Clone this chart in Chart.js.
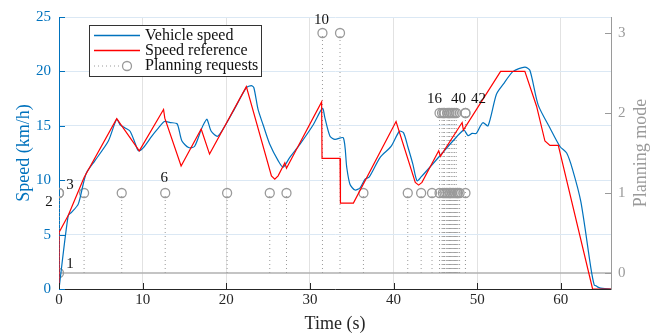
<!DOCTYPE html>
<html>
<head>
<meta charset="utf-8">
<script src="https://cdn.jsdelivr.net/npm/chart.js@4.4.1/dist/chart.umd.min.js"></script>
<style>
  body { margin: 0; background: #fff; }
  #chart { display: block; }
</style>
</head>
<body>
<canvas id="chart" width="669" height="335"></canvas>
<script>
// values
const speedTime = [0, 1.1, 1.5, 2.3, 2.9, 3.3, 4.3, 5.9, 6.9, 7.3, 7.9, 8.5, 9.1, 9.5, 10.1, 11.1, 11.9, 12.6, 13.3, 14.1, 14.3, 14.7, 15.5, 16.2, 17.0, 17.4, 17.7, 18.2, 19.0, 20.8, 22.4, 23.0, 23.3, 23.8, 24.4, 25.2, 26.2, 26.8, 27.6, 28.8, 30.4, 31.5, 31.8, 32.4, 33.0, 34.0, 34.4, 34.8, 35.4, 36.0, 36.6, 37.1, 38.4, 39.7, 40.7, 41.2, 41.7, 42.3, 42.8, 43.3, 45.5, 47.1, 48.4, 48.9, 49.4, 49.9, 50.4, 50.7, 51.3, 52.3, 53.1, 54.3, 55.7, 56.3, 57.3, 58.7, 59.9, 60.7, 61.4, 62.4, 63.6, 64.0, 64.2, 64.5, 65.0, 66.0];
const speedValues = [0, 6.75, 7.05, 7.8, 9.65, 10.7, 11.8, 13.6, 15.6, 15.1, 14.8, 14.5, 13.4, 12.7, 13.0, 14.05, 14.8, 15.4, 15.3, 15.2, 14.8, 13.6, 13.0, 13.1, 14.65, 15.3, 15.6, 14.5, 14.05, 16.3, 18.5, 18.7, 18.5, 16.5, 15.1, 13.3, 11.8, 11.2, 12.1, 13.3, 15.1, 16.6, 15.7, 14.05, 13.75, 13.9, 11.2, 9.6, 9.1, 9.3, 10.1, 10.3, 12.1, 13.1, 14.5, 14.35, 13.1, 11.5, 9.95, 10.3, 12.2, 13.6, 14.6, 14.1, 14.3, 14.3, 15.0, 15.3, 15.0, 17.9, 18.8, 20.0, 20.4, 20.1, 16.9, 14.8, 13.1, 12.5, 11.0, 8.0, 1.9, 0.35, 0.3, 0.15, 0.05, 0];

const refTime = [0, 0, 1.1, 3.0, 6.9, 9.6, 12.5, 12.65, 14.6, 17.0, 18.0, 22.4, 25.4, 25.8, 26.2, 27.0, 27.2, 31.4, 31.45, 33.6, 33.65, 35.2, 40.3, 42.6, 43.0, 43.4, 45.4, 45.6, 48.2, 48.35, 52.8, 55.7, 57.1, 58.1, 58.7, 59.7, 63.8, 66.0];
const refValues = [0, 5.2, 6.75, 10.25, 15.65, 12.7, 16.5, 15.7, 11.3, 14.7, 12.4, 18.6, 10.4, 10.1, 10.4, 11.6, 11.1, 17.2, 12.0, 12.0, 7.9, 7.9, 15.4, 9.8, 9.55, 9.8, 12.7, 12.2, 15.3, 14.6, 20.0, 20.0, 16.8, 13.6, 13.2, 13.2, 0, 0];

const reqTimes = [0, 0, 0, 3.0, 7.5, 12.7, 20.1, 25.2, 27.2, 31.5, 33.6, 36.4, 41.7, 43.3, 44.6,
  45.5, 45.5, 45.8, 45.9, 46.0, 46.1, 46.1, 46.3, 46.4, 46.5, 46.6, 46.7, 46.7, 46.8, 46.9, 47.0,
  47.1, 47.2, 47.3, 47.4, 47.5, 47.6, 47.7, 47.9, 48.6, 48.6, 48.6];
const reqModes = [0, 1, 1, 1, 1, 1, 1, 1, 1, 3, 3, 1, 1, 1, 1,
  2, 1, 2, 1, 2, 1, 2, 1, 2, 1, 2, 1, 2, 1, 2, 1,
  2, 1, 2, 1, 2, 1, 1, 1, 2, 1, 2];
const labeledRequests = [1, 2, 3, 6, 10, 16, 40, 42];

const xTicks = [0, 10, 20, 30, 40, 50, 60];
const speedTicks = [0, 5, 10, 15, 20, 25];
const modeTicks = [0, 1, 2, 3];

const BLUE = '#0072BD';
const RED = '#FF0000';
const GREY = '#9a9a9a';
const FONT = '"Liberation Serif", "Times New Roman", serif';

const toPoints = (xs, ys) => xs.map((x, i) => ({ x: x, y: ys[i] }));

// stems: from the baseline up to each request, broken by a null
const stemPoints = [];
reqTimes.forEach((t, i) => {
  stemPoints.push({ x: t, y: 0 }, { x: t, y: reqModes[i] }, { x: t, y: null });
});

// label nudges, in pixels, so the numbers sit beside their circles
const labelOffsets = {
  1: [11, -9], 2: [-10, 9], 3: [11, -8], 6: [-1, -15],
  10: [-1, -13], 16: [-5, -14], 40: [-7, -14], 42: [13, -14]
};

const overlay = {
  id: 'overlay',
  afterDatasetsDraw(chart) {
    const ctx = chart.ctx;
    const sx = chart.scales.x, sy = chart.scales.y, sy2 = chart.scales.y2;
    const area = chart.chartArea;
    ctx.save();

    // inward tick marks
    ctx.lineWidth = 1;
    ctx.strokeStyle = BLUE;
    speedTicks.forEach(v => {
      const p = Math.round(sy.getPixelForValue(v)) + 0.5;
      ctx.beginPath(); ctx.moveTo(area.left, p); ctx.lineTo(area.left + 6, p); ctx.stroke();
    });
    ctx.strokeStyle = '#262626';
    xTicks.forEach(v => {
      const p = Math.round(sx.getPixelForValue(v)) + 0.5;
      ctx.beginPath(); ctx.moveTo(p, area.bottom); ctx.lineTo(p, area.bottom - 6); ctx.stroke();
    });
    ctx.strokeStyle = GREY;
    modeTicks.forEach(v => {
      const p = Math.round(sy2.getPixelForValue(v)) + 0.5;
      ctx.beginPath(); ctx.moveTo(area.right, p); ctx.lineTo(area.right - 6, p); ctx.stroke();
    });

    // request numbers
    ctx.font = '15px ' + FONT;
    ctx.fillStyle = '#111';
    ctx.textAlign = 'center';
    ctx.textBaseline = 'middle';
    labeledRequests.forEach(n => {
      const off = labelOffsets[n];
      ctx.fillText(String(n), sx.getPixelForValue(reqTimes[n - 1]) + off[0], sy2.getPixelForValue(reqModes[n - 1]) + off[1]);
    });

    // legend box
    const lx = 89.5, ly = 25.5, lw = 172, lh = 51;
    ctx.fillStyle = '#fff';
    ctx.fillRect(lx, ly, lw, lh);
    ctx.strokeStyle = '#333';
    ctx.strokeRect(lx, ly, lw, lh);
    const rows = [35.5, 50.5, 66];
    const sets = chart.data.datasets.filter(d => d.legendRank !== undefined)
      .sort((a, b) => a.legendRank - b.legendRank);
    ctx.font = '16px ' + FONT;
    ctx.textAlign = 'left';
    sets.forEach((d, i) => {
      const ry = rows[i];
      ctx.strokeStyle = d.borderColor || d.pointBorderColor;
      ctx.lineWidth = d.legendDash ? 1 : 1.5;
      ctx.setLineDash(d.legendDash ? [1, 3] : []);
      ctx.beginPath(); ctx.moveTo(94, ry); ctx.lineTo(d.legendDash ? 121 : 140, ry); ctx.stroke();
      ctx.setLineDash([]);
      if (d.legendDash) {
        ctx.lineWidth = 1.3;
        ctx.beginPath(); ctx.arc(127, ry, 4.5, 0, Math.PI * 2); ctx.stroke();
      }
      ctx.fillStyle = '#111';
      ctx.fillText(d.label, 145, ry);
    });

    // right axis title, reading upwards like the left one
    ctx.translate(641, (area.top + area.bottom) / 2);
    ctx.rotate(-Math.PI / 2);
    ctx.textAlign = 'center';
    ctx.fillStyle = GREY;
    ctx.font = '18px ' + FONT;
    ctx.fillText('Planning mode', 0, 0);
    ctx.restore();
  }
};

new Chart(document.getElementById('chart'), {
  type: 'line',
  data: {
    datasets: [
      {
        label: 'Speed reference',
        data: toPoints(refTime, refValues),
        borderColor: RED,
        borderWidth: 1.2,
        tension: 0,
        yAxisID: 'y',
        order: 0,
        legendRank: 1
      },
      {
        label: 'Vehicle speed',
        data: toPoints(speedTime, speedValues),
        borderColor: BLUE,
        borderWidth: 1.2,
        tension: 0.25,
        yAxisID: 'y',
        order: 1,
        legendRank: 0
      },
      {
        label: 'Planning requests',
        data: toPoints(reqTimes, reqModes),
        showLine: false,
        pointRadius: 4.5,
        pointBorderWidth: 1.3,
        pointBorderColor: GREY,
        pointBackgroundColor: 'rgba(0,0,0,0)',
        yAxisID: 'y2',
        order: 2,
        legendRank: 2,
        legendDash: true
      },
      {
        label: 'stems',
        data: stemPoints,
        borderColor: GREY,
        borderWidth: 1,
        borderDash: [1, 3],
        spanGaps: false,
        yAxisID: 'y2',
        order: 3
      },
      {
        label: 'baseline',
        data: [{ x: 0, y: 0 }, { x: 66, y: 0 }],
        borderColor: '#b0b0b0',
        borderWidth: 1.5,
        yAxisID: 'y2',
        order: 4
      }
    ]
  },
  options: {
    responsive: false,
    animation: false,
    layout: { padding: { top: 15, left: 0, right: 0, bottom: 0 } },
    plugins: { legend: { display: false }, tooltip: { enabled: false } },
    elements: { point: { radius: 0 } },
    scales: {
      x: {
        type: 'linear',
        min: 0,
        max: 66,
        afterBuildTicks: s => { s.ticks = xTicks.map(v => ({ value: v })); },
        afterFit: s => { s.height = 46; },
        ticks: { color: '#262626', font: { family: FONT, size: 15 }, padding: 2, maxRotation: 0 },
        grid: { color: '#e2e2e2', drawTicks: false },
        border: { color: '#262626', width: 1 },
        title: { display: true, text: 'Time (s)', color: '#262626', font: { family: FONT, size: 18 }, padding: { top: 0, bottom: 0 } }
      },
      y: {
        position: 'left',
        min: 0,
        max: 25,
        afterBuildTicks: s => { s.ticks = speedTicks.map(v => ({ value: v })); },
        afterFit: s => { s.width = 59; },
        ticks: { color: BLUE, font: { family: FONT, size: 15 }, padding: 8 },
        grid: { color: '#dbe8f4', drawTicks: false },
        border: { color: BLUE, width: 1 },
        title: { display: true, text: 'Speed (km/h)', color: BLUE, font: { family: FONT, size: 18 }, padding: { top: 13, bottom: 0 } }
      },
      y2: {
        position: 'right',
        min: -0.2,
        max: 3.2,
        afterBuildTicks: s => { s.ticks = modeTicks.map(v => ({ value: v })); },
        afterFit: s => { s.width = 58; },
        ticks: { color: GREY, font: { family: FONT, size: 15 }, padding: 7 },
        grid: { drawOnChartArea: false, drawTicks: false },
        border: { color: GREY, width: 1 }
      }
    }
  },
  plugins: [overlay]
});
</script>
</body>
</html>
